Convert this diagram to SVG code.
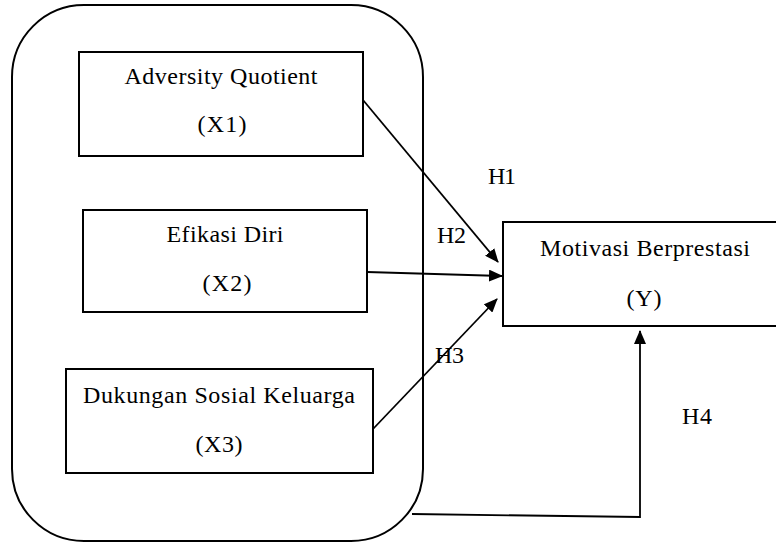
<svg xmlns="http://www.w3.org/2000/svg" width="776" height="542" viewBox="0 0 776 542">
<style>
.box{fill:#fff;stroke:#000;stroke-width:2}
.t{font-family:"Liberation Serif","Times New Roman",serif;font-size:24px;fill:#000;text-anchor:middle}
.h{font-family:"Liberation Serif","Times New Roman",serif;font-size:24px;fill:#000}
.c{fill:none;stroke:#000;stroke-width:1.8}
</style>
<defs>
<marker id="ah" markerUnits="userSpaceOnUse" markerWidth="14" markerHeight="12" refX="13" refY="6" orient="auto">
<path d="M0,0 L14,6 L0,12 Z" fill="#000"/>
</marker>
</defs>
<rect id="group" x="12" y="5" width="411" height="536" rx="72" ry="72" fill="none" stroke="#000" stroke-width="2"/>
<g id="x1">
<rect class="box" x="79" y="52" width="284" height="104"/>
<text class="t" x="221" y="84" textLength="193" lengthAdjust="spacing">Adversity Quotient</text>
<text class="t" x="222" y="132" textLength="49" lengthAdjust="spacing">(X1)</text>
</g>
<g id="x2">
<rect class="box" x="83" y="210" width="284" height="102"/>
<text class="t" x="225" y="242" textLength="117" lengthAdjust="spacing">Efikasi Diri</text>
<text class="t" x="227" y="291" textLength="49" lengthAdjust="spacing">(X2)</text>
</g>
<g id="x3">
<rect class="box" x="66" y="369" width="307" height="104"/>
<text class="t" x="219" y="403" textLength="272" lengthAdjust="spacing">Dukungan Sosial Keluarga</text>
<text class="t" x="219" y="452" textLength="47" lengthAdjust="spacing">(X3)</text>
</g>
<g id="y">
<rect class="box" x="503" y="222" width="274" height="104"/>
<text class="t" x="645" y="256" textLength="210" lengthAdjust="spacing">Motivasi Berprestasi</text>
<text class="t" x="644" y="306" textLength="35" lengthAdjust="spacing">(Y)</text>
</g>
<g id="connectors">
<line class="c" x1="363" y1="100" x2="498" y2="262" marker-end="url(#ah)"/>
<line class="c" x1="367" y1="272" x2="502" y2="276" marker-end="url(#ah)"/>
<line class="c" x1="373" y1="429" x2="497" y2="299" marker-end="url(#ah)"/>
<polyline class="c" points="412,514 640,517 640,331" stroke-width="1.6" marker-end="url(#ah)"/>
</g>
<g id="labels">
<text class="h" x="488" y="184" textLength="28" lengthAdjust="spacing">H1</text>
<text class="h" x="437" y="243" textLength="29" lengthAdjust="spacing">H2</text>
<text class="h" x="435" y="363" textLength="29" lengthAdjust="spacing">H3</text>
<text class="h" x="682" y="424" textLength="30" lengthAdjust="spacing">H4</text>
</g>
</svg>
